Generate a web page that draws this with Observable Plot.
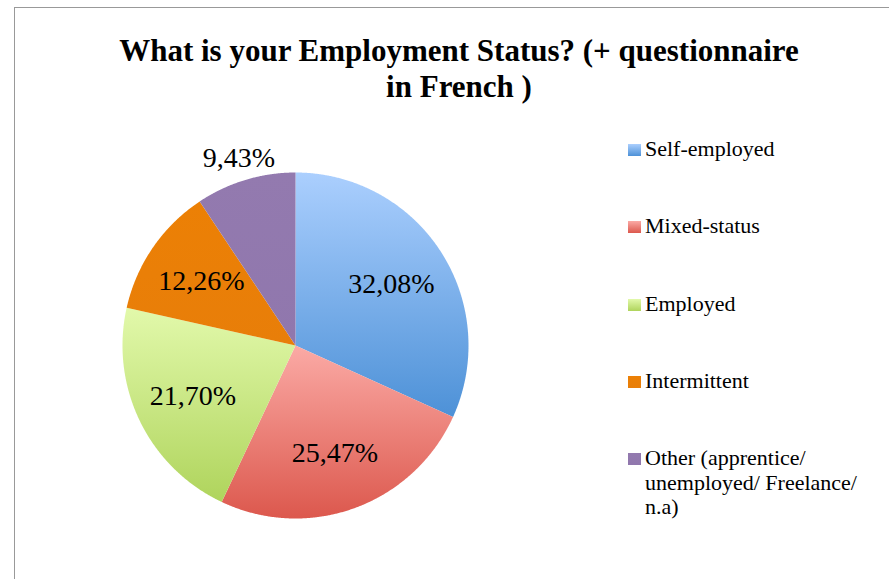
<!DOCTYPE html>
<html><head><meta charset="utf-8">
<script src="https://cdn.jsdelivr.net/npm/d3@7"></script>
<script src="https://cdn.jsdelivr.net/npm/@observablehq/plot@0.6"></script>
<style>
html,body{margin:0;padding:0;background:#fff;}
#wrap{position:relative;width:889px;height:579px;overflow:hidden;font-family:"Liberation Serif",serif;color:#000;}
#frame{position:absolute;left:14px;top:7px;width:920px;height:620px;border:1.5px solid #999;box-sizing:border-box;}
#title{position:absolute;left:59px;width:800px;top:33px;text-align:center;font-weight:bold;font-size:31px;line-height:36px;}
#chart{position:absolute;left:95px;top:145px;}
.li{position:absolute;left:628px;}
.sw{position:absolute;left:0;width:13px;height:12px;}
.lt{position:absolute;left:17px;white-space:nowrap;font-size:22px;line-height:24.5px;}
</style></head>
<body><div id="wrap"><div id="frame"></div>
<div id="title">What is your Employment Status? (+ questionnaire<br>in French )</div>
<div id="chart"></div>
</div>
<script>
const categories = ["Self-employed", "Mixed-status", "Employed", "Intermittent", "Other (apprentice/ unemployed/ Freelance/ n.a)"];
const legendLines = [["Self-employed"], ["Mixed-status"], ["Employed"], ["Intermittent"], ["Other (apprentice/", "unemployed/ Freelance/", "n.a)"]];
const values = [32.08, 25.47, 21.70, 12.26, 9.43];
const valueLabels = ["32,08%", "25,47%", "21,70%", "12,26%", "9,43%"];
const colorTop = ["#abcffe", "#fbaaa5", "#e2f9ab", "#ec8005", "#937aaf"];
const colorBottom = ["#4d91d7", "#dc584d", "#afd45c", "#e87e09", "#9077ad"];

const arcs = d3.pie().sort(null).value(d => d)(values);
const slices = arcs.map((a, i) => {
  const pts = [{x: 0, y: 0}];
  const n = Math.max(2, Math.ceil((a.endAngle - a.startAngle) / 0.005));
  for (let k = 0; k <= n; k++) {
    const t = a.startAngle + (a.endAngle - a.startAngle) * k / n;
    pts.push({x: Math.sin(t), y: Math.cos(t)});
  }
  return pts;
});
const circle = d3.range(0, 721).map(k => ({x: Math.sin(k / 720 * 2 * Math.PI), y: Math.cos(k / 720 * 2 * Math.PI)}));
const labelData = arcs.map((a, i) => {
  const m = (a.startAngle + a.endAngle) / 2;
  const r = values[i] < 10 ? 1.13 : 0.66;
  return {x: r * Math.sin(m), y: r * Math.cos(m), label: valueLabels[i]};
});

const svg = Plot.plot({
  width: 400, height: 400, margin: 0,
  style: {overflow: "visible", background: "transparent"},
  x: {domain: [-1, 1], range: [27, 373], axis: null},
  y: {domain: [-1, 1], range: [373, 27], axis: null},
  marks: [
    Plot.line(circle, {x: "x", y: "y", fill: "#000", fillOpacity: 0.3, stroke: "none", curve: "linear-closed", ariaLabel: "shadow"}),
    ...slices.map((pts, i) => Plot.line(pts, {x: "x", y: "y", fill: `url(#grad${i})`, stroke: "none", curve: "linear-closed"})),
    Plot.text(labelData, {x: "x", y: "y", text: "label", fontSize: 28, fontFamily: "Liberation Serif", fill: "#000"})
  ]
});
const ns = "http://www.w3.org/2000/svg";
const defs = document.createElementNS(ns, "defs");
colorTop.forEach((c, i) => {
  const g = document.createElementNS(ns, "linearGradient");
  g.setAttribute("id", `grad${i}`);
  g.setAttribute("x1", 0); g.setAttribute("y1", 0); g.setAttribute("x2", 0); g.setAttribute("y2", 1);
  [[0, c], [1, colorBottom[i]]].forEach(([o, col]) => {
    const s = document.createElementNS(ns, "stop");
    s.setAttribute("offset", o); s.setAttribute("stop-color", col);
    g.appendChild(s);
  });
  defs.appendChild(g);
});
const f = document.createElementNS(ns, "filter");
f.setAttribute("id", "shadow"); f.setAttribute("x", "-20%"); f.setAttribute("y", "-20%"); f.setAttribute("width", "140%"); f.setAttribute("height", "140%");
f.innerHTML = '<feOffset dx="0" dy="2"/><feGaussianBlur stdDeviation="2.5"/>';
defs.appendChild(f);
svg.insertBefore(defs, svg.firstChild);
const sh = svg.querySelector('g[aria-label="shadow"]');
if (sh) sh.setAttribute("filter", "url(#shadow)");
document.getElementById("chart").appendChild(svg);

const wrap = document.getElementById("wrap");
categories.forEach((c, i) => {
  const top = 144 + i * 77.3;
  const d = document.createElement("div");
  d.className = "li";
  d.style.top = top + "px";
  d.title = c;
  const sw = document.createElement("div");
  sw.className = "sw";
  sw.style.background = `linear-gradient(${colorTop[i]}, ${colorBottom[i]})`;
  d.appendChild(sw);
  const t = document.createElement("div");
  t.className = "lt";
  t.style.top = "-7px";
  t.innerHTML = legendLines[i].join("<br>");
  d.appendChild(t);
  wrap.appendChild(d);
});
</script></body></html>
